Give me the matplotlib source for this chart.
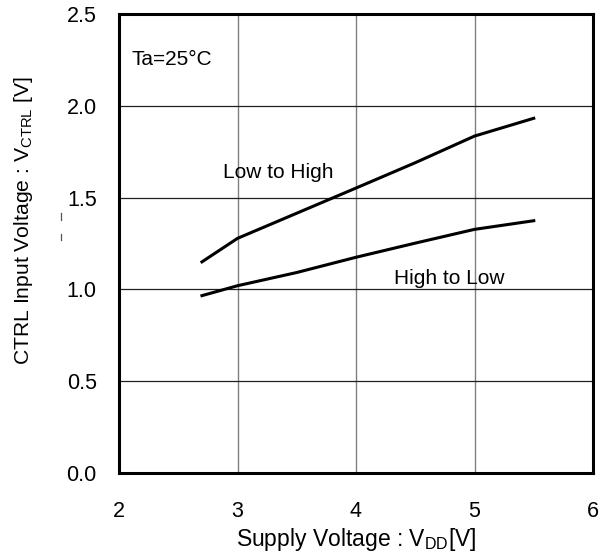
import matplotlib
matplotlib.use("Agg")
import matplotlib.pyplot as plt
from matplotlib.lines import Line2D

plt.rcParams['font.family'] = ['Liberation Sans', 'DejaVu Sans']
plt.rcParams['mathtext.fontset'] = 'custom'
plt.rcParams['mathtext.rm'] = 'Liberation Sans'
plt.rcParams['mathtext.it'] = 'Liberation Sans'

# Data
vdd_low_high = [2.7, 3.0, 3.5, 4.0, 4.5, 5.0, 5.5]
vctrl_low_high = [1.15, 1.278, 1.415, 1.552, 1.69, 1.835, 1.932]

vdd_high_low = [2.7, 3.0, 3.5, 4.0, 4.5, 5.0, 5.5]
vctrl_high_low = [0.966, 1.02, 1.092, 1.175, 1.252, 1.327, 1.374]

x_ticks = [2, 3, 4, 5, 6]
y_ticks = [0.0, 0.5, 1.0, 1.5, 2.0, 2.5]

fig = plt.figure(figsize=(6.01, 5.57), dpi=100)
ax = fig.add_axes([119 / 601, 84 / 557, 474 / 601, 459 / 557])

ax.plot(vdd_low_high, vctrl_low_high, color='black', linewidth=2.2)
ax.plot(vdd_high_low, vctrl_high_low, color='black', linewidth=2.2)

ax.set_xlim(2, 6)
ax.set_ylim(0, 2.5)
ax.set_xticks(x_ticks)
ax.set_yticks(y_ticks)
ax.set_xticklabels([str(v) for v in x_ticks])
ax.set_yticklabels([f'{v:.1f}' for v in y_ticks])
ax.tick_params(length=0, labelsize=15.5)
ax.tick_params(axis='x', pad=20)
ax.tick_params(axis='y', pad=16)

# grid: gray verticals, dark horizontals
ax.xaxis.grid(True, color='#808080', linewidth=1.0)
ax.yaxis.grid(True, color='#202020', linewidth=0.9)
ax.set_axisbelow(True)

for sp in ax.spines.values():
    sp.set_linewidth(2.2)
    sp.set_color('black')

ax.set_xlabel('Supply Voltage : V$_{\\mathrm{DD}}$[V]', fontsize=16.5, labelpad=3)
ax.set_ylabel('CTRL Input Voltage : V$_{\\mathrm{CTRL}}$ [V]', fontsize=15.2)
ax.yaxis.set_label_coords(-0.177, 0.549)

ax.text(2.107, 2.25, 'Ta=25°C', fontsize=15, va='center', ha='left')
ax.text(2.88, 1.636, 'Low to High', fontsize=15, va='center', ha='left')
ax.text(4.32, 1.057, 'High to Low', fontsize=15, va='center', ha='left')

# small stray marks left of the axis
for y0, y1 in [(213, 220), (234, 240)]:
    fig.add_artist(Line2D([61 / 601, 61 / 601], [1 - y0 / 557, 1 - y1 / 557],
                          transform=fig.transFigure, color='#555555', linewidth=0.9))

fig.savefig('out.png', dpi=100)
